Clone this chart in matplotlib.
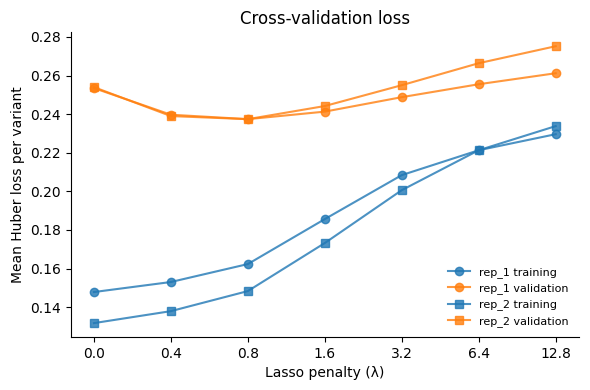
import matplotlib
matplotlib.use("Agg")
import matplotlib.pyplot as plt
import numpy as np

penalties = ["0.0", "0.4", "0.8", "1.6", "3.2", "6.4", "12.8"]
rep1_train = [0.1478, 0.1530, 0.1623, 0.1856, 0.2084, 0.2213, 0.2296]
rep1_val = [0.2535, 0.2397, 0.2374, 0.2413, 0.2488, 0.2555, 0.2612]
rep2_train = [0.1317, 0.1379, 0.1483, 0.1732, 0.2006, 0.2213, 0.2338]
rep2_val = [0.2540, 0.2390, 0.2374, 0.2442, 0.2550, 0.2664, 0.2752]

fig, ax = plt.subplots(figsize=(5.9, 3.9), dpi=100)
x = np.arange(len(penalties))
ax.plot(x, rep1_train, marker="o", color="tab:blue", alpha=0.8, label="rep_1 training")
ax.plot(x, rep1_val, marker="o", color="tab:orange", alpha=0.8, label="rep_1 validation")
ax.plot(x, rep2_train, marker="s", color="tab:blue", alpha=0.8, label="rep_2 training")
ax.plot(x, rep2_val, marker="s", color="tab:orange", alpha=0.8, label="rep_2 validation")
ax.set_xticks(x)
ax.set_xticklabels(penalties)
ax.set_xlabel("Lasso penalty (λ)")
ax.set_ylabel("Mean Huber loss per variant")
ax.set_title("Cross-validation loss")
ax.spines["top"].set_visible(False)
ax.spines["right"].set_visible(False)
ax.legend(loc="lower right", fontsize=8, frameon=False)
fig.subplots_adjust(left=0.120, right=0.981, bottom=0.136, top=0.917)
fig.savefig("out.png")
